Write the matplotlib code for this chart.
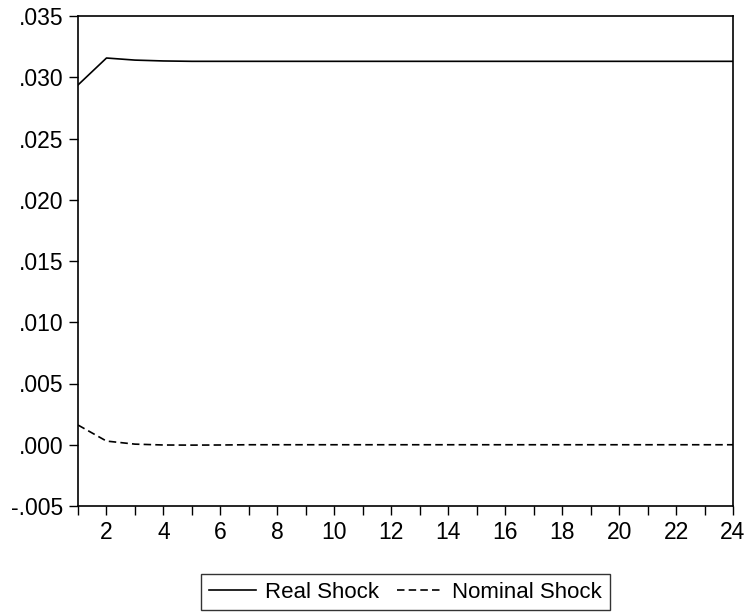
import numpy as np
import matplotlib.pyplot as plt
from matplotlib.ticker import FuncFormatter

plt.rcParams['font.family'] = ['Liberation Sans', 'DejaVu Sans']

periods = list(range(1, 25))
real_shock = [0.02937, 0.03157, 0.03140, 0.03133] + [0.03130] * 20
nominal_shock = [0.00161, 0.00030, 0.00005, -0.00002, -0.00003, -0.00002] + [0.0] * 18

fig = plt.figure(figsize=(7.48, 6.12), dpi=100)
ax = fig.add_axes([78 / 748, 1 - 506 / 612, (733 - 78) / 748, (506 - 16) / 612])

ax.plot(periods, real_shock, color='black', lw=1.2, label='Real Shock')
ax.plot(periods, nominal_shock, color='black', lw=1.2, ls=(0, (4.5, 2.5)), label='Nominal Shock')

ax.set_xlim(1, 24)
ax.set_ylim(-0.005, 0.035)
ax.set_xticks(range(1, 25))
ax.set_xticklabels([str(p) if p % 2 == 0 else '' for p in periods])
ax.set_yticks(np.arange(-0.005, 0.0351, 0.005))
ax.yaxis.set_major_formatter(FuncFormatter(
    lambda v, _: ('-' if v < -1e-9 else '') + ('%.3f' % abs(v))[1:]))
ax.tick_params(direction='out', length=6.5, width=1, pad=4, labelsize=16.5, colors='black')
for s in ax.spines.values():
    s.set_linewidth(1.2)

fig.legend(loc='center', bbox_to_anchor=(405.5 / 748, 1 - 592 / 612), ncol=2,
           fontsize=16, frameon=True, fancybox=False, edgecolor='black',
           handlelength=2.1, handletextpad=0.4, columnspacing=0.8,
           borderpad=0.35, borderaxespad=0)

fig.savefig('out.png', dpi=100)
